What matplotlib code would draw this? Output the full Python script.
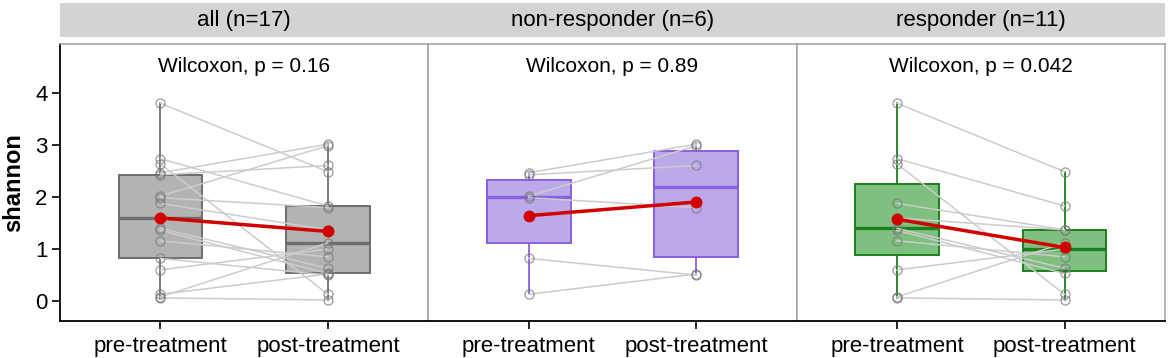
import matplotlib.pyplot as plt
import numpy as np

plt.rcParams['font.family'] = ['Liberation Sans', 'DejaVu Sans']

# shannon diversity, paired per patient (same order in pre and post)
pre_nonresp = [2.47, 2.43, 2.02, 1.99, 0.82, 0.13]
post_nonresp = [3.02, 2.61, 2.99, 1.80, 0.50, 0.52]
pre_resp = [3.81, 2.74, 2.64, 1.88, 1.60, 1.40, 1.36, 1.16, 0.60, 0.08, 0.06]
post_resp = [2.49, 1.83, 0.13, 1.37, 1.37, 0.63, 0.53, 0.85, 1.00, 1.12, 0.02]

groups = ['all', 'non-responder', 'responder']
p_values = ['0.16', '0.89', '0.042']
timepoints = ['pre-treatment', 'post-treatment']

pre_all = pre_nonresp + pre_resp
post_all = post_nonresp + post_resp
data = {
    'all': (pre_all, post_all),
    'non-responder': (pre_nonresp, post_nonresp),
    'responder': (pre_resp, post_resp),
}

box_fill = {'all': '#b3b3b3', 'non-responder': '#bca9e9', 'responder': '#7fbf7f'}
box_edge = {'all': '#6e6e6e', 'non-responder': '#8a5fe0', 'responder': '#1b801b'}

W, H = 1170, 358
fig = plt.figure(figsize=(W / 100, H / 100), dpi=100)

left_px, right_px = 60, 1165
top_px, bottom_px = 44, 321
strip_top, strip_bot = 3.3, 37.3
panel_w = (right_px - left_px) / 3

for i, g in enumerate(groups):
    x0 = (left_px + i * panel_w) / W
    ax = fig.add_axes([x0, 1 - bottom_px / H, panel_w / W, (bottom_px - top_px) / H])
    pre, post = data[g]

    # boxplots
    bp = ax.boxplot([pre, post], positions=[1, 2], widths=0.5, whis=1.5,
                    showfliers=False, showcaps=False, patch_artist=True, zorder=1)
    for b in bp['boxes']:
        b.set(facecolor=box_fill[g], edgecolor=box_edge[g], linewidth=1.4)
    for w in bp['whiskers']:
        w.set(color=box_edge[g], linewidth=1.3)
    for m in bp['medians']:
        m.set(color=box_edge[g], linewidth=2.4)

    # paired lines
    for a, b in zip(pre, post):
        ax.plot([1, 2], [a, b], color='#cccccc', linewidth=1.1, zorder=2)

    # individual points
    for x, vals in [(1, pre), (2, post)]:
        ax.plot([x] * len(vals), vals, 'o', mfc='none', mec='#7a7a7a', ms=6.5, mew=0.9,
                alpha=0.75, zorder=3)

    # means
    ax.plot([1, 2], [np.mean(pre), np.mean(post)], '-o', color='#d00000',
            linewidth=2.5, ms=7.5, mec='#d00000', zorder=4)

    ax.text(1.5, 4.52, f'Wilcoxon, p = {p_values[i]}', ha='center', va='center', fontsize=15)

    ax.set_xlim(0.4, 2.6)
    ax.set_ylim(-0.385, 4.95)
    ax.set_xticks([1, 2])
    ax.set_xticklabels(timepoints, fontsize=16)
    ax.tick_params(axis='x', length=6, width=1.2, pad=5)
    for s in ['top', 'right', 'left']:
        ax.spines[s].set_color('#a0a0a0')
        ax.spines[s].set_linewidth(1.1)
    ax.spines['bottom'].set_color('black')
    ax.spines['bottom'].set_linewidth(1.3)
    if i == 0:
        ax.set_yticks([0, 1, 2, 3, 4])
        ax.tick_params(axis='y', length=6, width=1.2, pad=3, labelsize=16)
        ax.spines['left'].set_color('black')
        ax.spines['left'].set_linewidth(1.3)
        ax.set_ylabel('shannon', fontsize=17, fontweight='bold', labelpad=7)
    else:
        ax.set_yticks([])

    # facet strip
    sax = fig.add_axes([x0, 1 - strip_bot / H, panel_w / W, (strip_bot - strip_top) / H])
    sax.set_facecolor('#d3d3d3')
    sax.set_xticks([])
    sax.set_yticks([])
    for s in sax.spines.values():
        s.set_visible(False)
    sax.text(0.5, 0.5, f'{g} (n={len(pre)})', ha='center', va='center', fontsize=16,
             transform=sax.transAxes)

fig.savefig('out.png', dpi=100)
